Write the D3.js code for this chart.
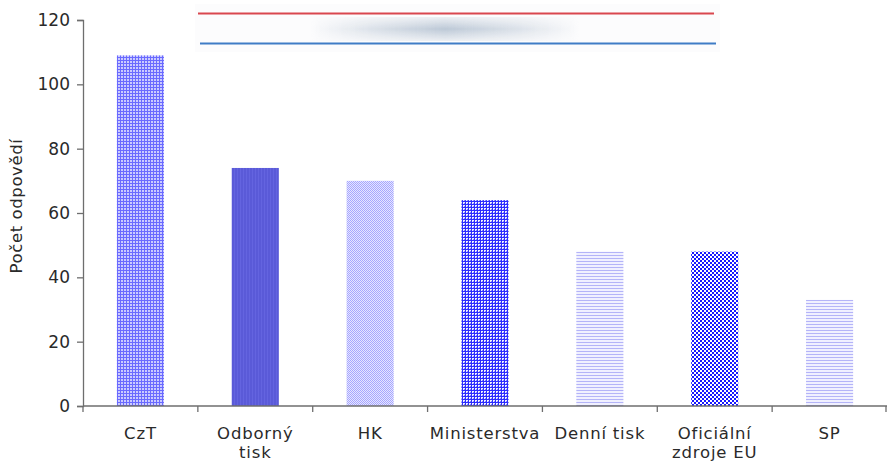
<!DOCTYPE html>
<html><head><meta charset="utf-8">
<script src="https://cdn.jsdelivr.net/npm/d3@7"></script>
<style>body{margin:0;background:#fff}svg{display:block}</style>
</head><body>
<svg id="c" width="887" height="463"></svg>
<script>
const categories = ["CzT", "Odborný tisk", "HK", "Ministerstva", "Denní tisk", "Oficiální zdroje EU", "SP"];
const labelLines = [["CzT"], ["Odborný", "tisk"], ["HK"], ["Ministerstva"], ["Denní tisk"], ["Oficiální", "zdroje EU"], ["SP"]];
const values = [109, 74, 70, 64, 48, 48, 33];
const patterns = ["pGrid", "pSolid", "pDots", "pGridStrong", "pLines", "pChecker", "pLines"];
const yTicks = [0, 20, 40, 60, 80, 100, 120];
const yTitle = "Počet odpovědí";

const svg = d3.select("#c");
const x = d3.scaleBand().domain(categories).range([83, 887]).padding(0);
const y = d3.scaleLinear().domain([0, 120]).range([406, 20]);

const defs = svg.append("defs");
function pat(id, w, h, build) {
  const p = defs.append("pattern").attr("id", id).attr("patternUnits", "userSpaceOnUse")
    .attr("width", w).attr("height", h);
  build(p);
}
pat("pGrid", 3, 3, p => {
  p.append("rect").attr("width", 3).attr("height", 3).attr("fill", "#cbcbff");
  p.append("rect").attr("width", 3).attr("height", 1).attr("fill", "#6a6aff");
  p.append("rect").attr("width", 1).attr("height", 3).attr("fill", "#6a6aff");
});
pat("pSolid", 3, 3, p => {
  p.append("rect").attr("width", 3).attr("height", 3).attr("fill", "#5a5ad8");
  p.append("rect").attr("width", 1).attr("height", 3).attr("fill", "#6464e0");
});
pat("pDots", 2, 2, p => {
  p.append("rect").attr("width", 2).attr("height", 2).attr("fill", "#e6e6ff");
  p.append("rect").attr("width", 1).attr("height", 1).attr("fill", "#a6a6ff");
  p.append("rect").attr("x", 1).attr("y", 1).attr("width", 1).attr("height", 1).attr("fill", "#a6a6ff");
});
pat("pGridStrong", 3, 3, p => {
  p.append("rect").attr("width", 3).attr("height", 3).attr("fill", "#2b2bff");
  p.append("rect").attr("x", 1).attr("y", 1).attr("width", 2).attr("height", 2).attr("fill", "#f0f0ff");
  p.append("rect").attr("x", 2).attr("y", 2).attr("width", 1).attr("height", 1).attr("fill", "#8080ff");
});
pat("pLines", 3, 3, p => {
  p.append("rect").attr("width", 3).attr("height", 3).attr("fill", "#f0f0ff");
  p.append("rect").attr("width", 3).attr("height", 1).attr("fill", "#b4b4f8");
});
pat("pChecker", 4, 4, p => {
  p.append("rect").attr("width", 4).attr("height", 4).attr("fill", "#ffffff");
  p.append("rect").attr("width", 2).attr("height", 2).attr("fill", "#1818ff");
  p.append("rect").attr("x", 2).attr("y", 2).attr("width", 2).attr("height", 2).attr("fill", "#1818ff");
});

// decorative banner
const g1 = defs.append("linearGradient").attr("id", "blobH");
[[0, 0], [0.25, 0.55], [0.5, 1], [0.75, 0.55], [1, 0]].forEach(([o, a]) =>
  g1.append("stop").attr("offset", o).attr("stop-color", "#bcc8d6").attr("stop-opacity", a));
const g2 = defs.append("linearGradient").attr("id", "blobV").attr("x1", 0).attr("x2", 0).attr("y1", 0).attr("y2", 1);
[[0, 0.25], [0.5, 1], [1, 0.25]].forEach(([o, a]) =>
  g2.append("stop").attr("offset", o).attr("stop-color", "#fff").attr("stop-opacity", a));
defs.append("mask").attr("id", "blobMask").append("rect")
  .attr("x", 310).attr("y", 17).attr("width", 270).attr("height", 24).attr("fill", "url(#blobV)");
const banner = svg.append("g");
banner.append("rect").attr("x", 195).attr("y", 4).attr("width", 525).attr("height", 48).attr("fill", "#fcfcfd");
banner.append("rect").attr("x", 310).attr("y", 17).attr("width", 270).attr("height", 24)
  .attr("fill", "url(#blobH)").attr("mask", "url(#blobMask)");
banner.append("line").attr("x1", 198).attr("x2", 714).attr("y1", 13.5).attr("y2", 13.5)
  .attr("stroke", "#d9474f").attr("stroke-width", 2.2);
banner.append("line").attr("x1", 200).attr("x2", 716).attr("y1", 43.5).attr("y2", 43.5)
  .attr("stroke", "#3f7cc6").attr("stroke-width", 2.2);

// bars
const bw = x.bandwidth() * 0.41;
svg.append("g").selectAll("rect").data(categories).join("rect")
  .attr("x", d => x(d) + (x.bandwidth() - bw) / 2)
  .attr("width", bw)
  .attr("y", (d, i) => y(values[i]))
  .attr("height", (d, i) => y(0) - y(values[i]))
  .attr("fill", (d, i) => `url(#${patterns[i]})`);

const font = "'DejaVu Sans', Verdana, sans-serif";
const axisColor = "#6e6e6e";
const textColor = "#2a2a2a";

// y axis
const yAxis = svg.append("g").attr("transform", "translate(83,0)")
  .call(d3.axisLeft(y).tickValues(yTicks).tickSize(6).tickPadding(7));
yAxis.select(".domain").attr("stroke", axisColor).attr("stroke-width", 1.3);
yAxis.selectAll(".tick line").attr("stroke", axisColor).attr("stroke-width", 1.3);
yAxis.selectAll(".tick text").attr("font-family", font).attr("font-size", 17).attr("fill", textColor);

// x axis
svg.append("line").attr("x1", 83).attr("x2", 887).attr("y1", y(0)).attr("y2", y(0))
  .attr("stroke", axisColor).attr("stroke-width", 1.3);
const bounds = categories.map(c => x(c)).concat([x.range()[1] - 1]);
svg.append("g").selectAll("line").data(bounds).join("line")
  .attr("x1", d => d).attr("x2", d => d).attr("y1", y(0)).attr("y2", y(0) + 6)
  .attr("stroke", axisColor).attr("stroke-width", 1.3);

const lab = svg.append("g").selectAll("text").data(categories).join("text")
  .attr("text-anchor", "middle")
  .attr("font-family", font).attr("font-size", 16.5).attr("letter-spacing", 0.8).attr("fill", textColor)
  .attr("transform", d => `translate(${x(d) + x.bandwidth() / 2},439)`);
lab.selectAll("tspan").data((d, i) => labelLines[i]).join("tspan")
  .attr("x", 0).attr("dy", (d, i) => i === 0 ? 0 : 19).text(d => d);

// y title
svg.append("text").attr("transform", "translate(22,206) rotate(-90)")
  .attr("text-anchor", "middle").attr("font-family", font).attr("font-size", 16.5)
  .attr("letter-spacing", 0.6).attr("fill", textColor).text(yTitle);
</script>
</body></html>
